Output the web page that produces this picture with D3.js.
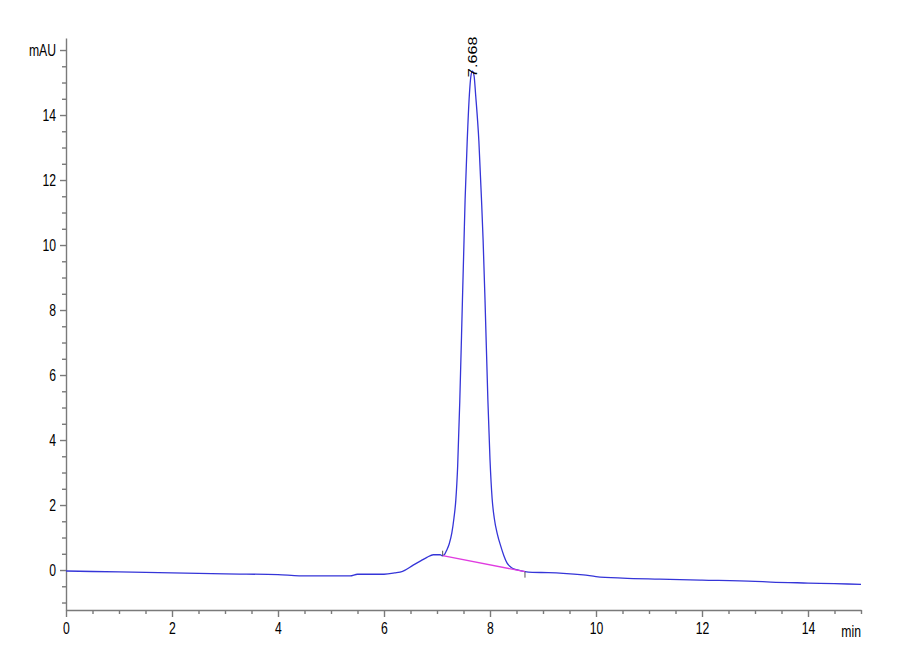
<!DOCTYPE html>
<html>
<head>
<meta charset="utf-8">
<script src="https://cdn.jsdelivr.net/npm/d3@7"></script>
<style>
    body { margin: 0; background: #fff; }
    svg { display: block; }
    .axis path, .axis line { stroke: #7a7a7a; stroke-width: 1.4; }
    .axis text { font-family: "Liberation Sans", Arial, sans-serif; font-size: 16.5px; fill: #000; transform-box: fill-box; }
    .y-axis text { transform-origin: right center; transform: scaleX(0.74); }
    .x-axis text { transform-origin: center center; transform: scaleX(0.74); }
    .x-axis text.unit { transform-origin: right center; }
</style>
</head>
<body>
<svg id="chart" width="900" height="660"></svg>
<script>
// retention time (min) and signal (mAU)
const times = [
    0, 1, 2, 3, 4, 4.4, 5.0, 5.36, 5.5, 5.75, 6.0, 6.2, 6.35, 6.55, 6.7, 6.81, 6.93, 7.06,
    7.1, 7.15, 7.18, 7.23, 7.28, 7.32, 7.355, 7.39, 7.43, 7.48, 7.51, 7.53, 7.57, 7.61, 7.64, 7.668,
    7.70, 7.73, 7.79, 7.84, 7.87, 7.906, 7.96, 8.0, 8.04, 8.08, 8.14, 8.2, 8.26, 8.32, 8.4, 8.5, 8.66,
    8.8, 9.1, 9.38, 9.76, 10.0, 10.5, 11.2, 12.0, 13.0, 13.3, 14.0, 14.5, 15.0
];
const signal = [
    -0.03, -0.06, -0.09, -0.12, -0.14, -0.18, -0.18, -0.18, -0.13, -0.13, -0.13, -0.09, -0.04, 0.15, 0.29, 0.39, 0.47, 0.47,
    0.44, 0.5, 0.6, 0.8, 1.14, 1.6, 2.15, 3.2, 5.2, 8.3, 10.15, 11.38, 13.2, 14.6, 15.2, 15.35,
    15.2, 14.6, 13.2, 11.38, 10.15, 8.3, 5.23, 3.4, 2.2, 1.6, 1.1, 0.75, 0.45, 0.22, 0.08, 0.01, -0.05,
    -0.07, -0.08, -0.1, -0.15, -0.2, -0.25, -0.28, -0.31, -0.35, -0.37, -0.4, -0.42, -0.44
];

// integration baseline under the main peak
const baselineTimes = [7.107, 8.66];
const baselineValues = [0.44, -0.05];

const peakTime = 7.668;
const peakValue = 15.35;
const peakLabel = "7.668";

const xMajorTicks = [0, 2, 4, 6, 8, 10, 12, 14];
const yMajorTicks = [0, 2, 4, 6, 8, 10, 12, 14, 16];
const yTickLabels = ["0", "2", "4", "6", "8", "10", "12", "14", "mAU"];
const xUnit = "min";

const svg = d3.select("#chart");

const margin = { left: 66, right: 39, top: 38, bottom: 50 };
const width = 900, height = 660;

const x = d3.scaleLinear().domain([0, 15]).range([margin.left, width - margin.right]);
const y = d3.scaleLinear().domain([-1.23, 16.37]).range([height - margin.bottom, margin.top]);

const xMinor = d3.range(0, 15.01, 0.5).filter((d) => d % 2 !== 0);
const yMinor = d3.range(-1, 16.3, 0.5).filter((d) => d % 2 !== 0);

// x axis
const xAxisG = svg.append("g").attr("class", "axis x-axis").attr("transform", `translate(0,${y.range()[0]})`);
xAxisG.call(d3.axisBottom(x).tickValues(xMajorTicks).tickSize(7).tickSizeOuter(0).tickPadding(5).tickFormat(d3.format("d")));
xAxisG.append("g").call(d3.axisBottom(x).tickValues(xMinor).tickSize(4).tickFormat("")).select(".domain").remove();
xAxisG.append("text")
    .attr("class", "unit")
    .attr("x", x.range()[1])
    .attr("y", 27)
    .attr("text-anchor", "end")
    .text(xUnit);

// y axis
const yAxisG = svg.append("g").attr("class", "axis y-axis").attr("transform", `translate(${margin.left},0)`);
yAxisG.call(
    d3.axisLeft(y)
        .tickValues(yMajorTicks)
        .tickSize(6)
        .tickSizeOuter(0)
        .tickPadding(4)
        .tickFormat((d, i) => yTickLabels[i])
);
yAxisG.append("g").call(d3.axisLeft(y).tickValues(yMinor).tickSize(4).tickFormat("")).select(".domain").remove();

// chromatogram trace
const points = times.map((t, i) => [t, signal[i]]);
const line = d3.line()
    .x((d) => x(d[0]))
    .y((d) => y(d[1]))
    .curve(d3.curveMonotoneX);

svg.append("path")
    .datum(points)
    .attr("fill", "none")
    .attr("stroke", "#3535d8")
    .attr("stroke-width", 1.3)
    .attr("d", line);

// baseline drop
svg.append("line")
    .attr("x1", x(baselineTimes[0]))
    .attr("y1", y(baselineValues[0]))
    .attr("x2", x(baselineTimes[1]))
    .attr("y2", y(baselineValues[1]))
    .attr("stroke", "#e03ce0")
    .attr("stroke-width", 1.3);

// start / end markers
svg.append("line")
    .attr("x1", x(baselineTimes[0])).attr("x2", x(baselineTimes[0]))
    .attr("y1", y(baselineValues[0]) - 5).attr("y2", y(baselineValues[0]))
    .attr("stroke", "#555").attr("stroke-width", 1);
svg.append("line")
    .attr("x1", x(baselineTimes[1])).attr("x2", x(baselineTimes[1]))
    .attr("y1", y(baselineValues[1])).attr("y2", y(baselineValues[1]) + 6)
    .attr("stroke", "#555").attr("stroke-width", 1);

// peak label
svg.append("text")
    .attr("transform", `translate(${x(peakTime) + 5},${y(peakValue) + 6}) rotate(-90) scale(1.25,1)`)
    .attr("font-family", "\"Liberation Sans\", Arial, sans-serif")
    .attr("font-size", 13)
    .attr("fill", "#000")
    .text(peakLabel);
</script>
</body>
</html>
